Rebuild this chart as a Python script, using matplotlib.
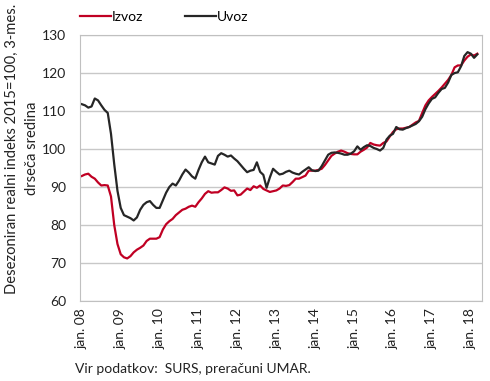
import matplotlib.pyplot as plt
import numpy as np

# mesecni podatki, jan. 2008 - mar. 2018
izvoz = [92.9, 93.3, 93.5, 92.7, 92.2, 91.2, 90.4, 90.5, 90.4, 87.5, 80.0, 75.0,
         72.3, 71.5, 71.2, 71.8, 72.8, 73.5, 74.0, 74.6, 75.8, 76.4, 76.4, 76.4,
         76.8, 78.8, 80.2, 81.0, 81.6, 82.6, 83.3, 84.0, 84.3, 84.8, 85.1, 84.8,
         86.0, 87.0, 88.2, 88.9, 88.5, 88.6, 88.6, 89.2, 89.9, 89.6, 89.0, 89.1,
         87.8, 88.0, 88.8, 89.6, 89.2, 90.2, 89.8, 90.4, 89.5, 89.1, 88.7, 88.9,
         89.1, 89.6, 90.4, 90.3, 90.5, 91.3, 92.2, 92.2, 92.6, 93.0, 94.3, 94.3,
         94.3, 94.5, 94.8, 95.8, 97.0, 98.2, 98.8, 99.3, 99.6, 99.3, 98.9, 98.7,
         98.6, 98.6, 99.3, 99.8, 100.4, 101.6, 101.2, 101.0, 100.9, 101.6, 102.0, 103.3,
         104.5, 105.2, 105.4, 105.4, 105.6, 105.8, 106.4, 107.0, 107.4, 109.5, 111.5, 112.8,
         113.7, 114.5, 115.3, 116.2, 117.2, 118.2, 119.5, 121.5, 122.0, 122.0, 123.3, 124.3,
         124.9, 124.6, 125.1]

uvoz = [111.8, 111.5, 110.9, 111.2, 113.3, 112.8, 111.5, 110.3, 109.5, 104.0, 96.0, 89.0,
        84.5, 82.6, 82.2, 81.8, 81.2, 82.0, 84.0, 85.3, 86.0, 86.3, 85.3, 84.5,
        84.5, 86.5, 88.5, 90.0, 90.9, 90.4, 91.7, 93.3, 94.6, 93.8, 92.8, 92.2,
        94.5, 96.5, 98.0, 96.5, 96.2, 95.9, 98.2, 98.9, 98.5, 98.0, 98.3, 97.5,
        96.8, 95.8, 94.8, 93.9, 94.3, 94.5, 96.5, 94.0, 93.2, 89.8, 92.5, 94.8,
        94.0, 93.3, 93.5, 94.0, 94.3, 93.8, 93.5, 93.3, 94.0, 94.6, 95.2, 94.4,
        94.2, 94.3, 95.5, 97.0, 98.5, 99.0, 99.1, 99.0, 98.8, 98.5, 98.5, 98.8,
        99.4, 100.7, 99.8, 100.5, 101.0, 100.8, 100.3, 100.0, 99.6, 100.3, 102.5, 103.5,
        104.0, 105.8, 105.2, 105.1, 105.5, 105.8, 106.2, 106.6, 107.3, 108.5, 110.5, 112.0,
        113.2, 113.6, 114.8, 115.8, 116.1, 117.5, 119.5, 120.0, 120.2, 121.8, 124.5, 125.5,
        125.1, 124.0, 124.9]

tick_labels = ['jan. 08', 'jan. 09', 'jan. 10', 'jan. 11', 'jan. 12', 'jan. 13',
               'jan. 14', 'jan. 15', 'jan. 16', 'jan. 17', 'jan. 18']

plt.rcParams['font.family'] = ['Lato', 'DejaVu Sans']

fig = plt.figure(figsize=(4.9, 3.81), dpi=100)
ax = fig.add_axes([0.163, 0.21, 0.821, 0.698])

x = np.arange(len(izvoz))
ax.plot(x, izvoz, color='#c00023', lw=1.6, label='Izvoz')
ax.plot(x, uvoz, color='#262626', lw=1.6, label='Uvoz')

ax.set_xlim(-0.6, 123.5)
ax.set_ylim(60, 130)
ax.set_yticks(range(60, 131, 10))
ax.set_xticks(np.arange(0, 121, 12))
ax.set_xticklabels(tick_labels, rotation=90)
ax.tick_params(axis='both', length=0, labelsize=10, colors='#222222')
ax.tick_params(axis='x', pad=5)
ax.tick_params(axis='y', pad=10)
ax.grid(axis='y', color='#c8c8c8', lw=1)
ax.set_axisbelow(True)
for s in ax.spines.values():
    s.set_color('#c0c0c0')

fig.text(0.045, 0.61, 'Desezoniran realni indeks 2015=100, 3-mes.\ndrseča sredina',
         rotation=90, ha='center', va='center', fontsize=10.6, color='#222222',
         multialignment='center', linespacing=1.55)

ax.legend(loc='lower left', bbox_to_anchor=(-0.03, 1.0), ncol=2, frameon=False,
          fontsize=10, handlelength=2.2, handletextpad=0.1, columnspacing=3.0)

fig.text(0.153, 0.022, 'Vir podatkov:  SURS, preračuni UMAR.', fontsize=10, color='#222222')

plt.savefig('out.png')
